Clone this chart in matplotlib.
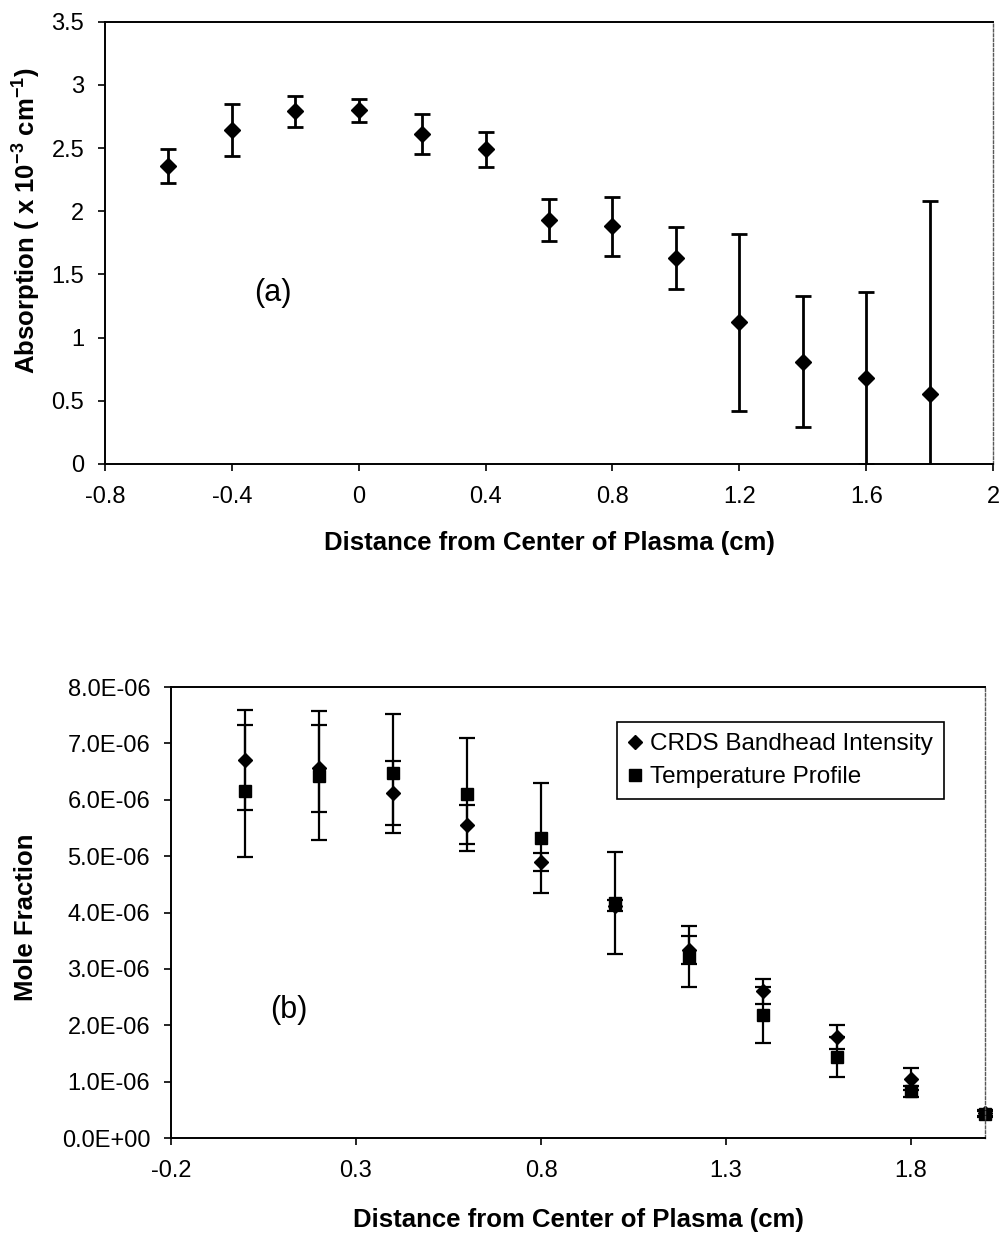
"""Two-panel plasma profile: absorption (a) and mole fraction (b) vs distance."""
import matplotlib
matplotlib.use("Agg")
import matplotlib.pyplot as plt
from matplotlib.ticker import FixedLocator, FuncFormatter

plt.rcParams["font.family"] = ["Liberation Sans", "DejaVu Sans"]
plt.rcParams["axes.unicode_minus"] = False
plt.rcParams["mathtext.fontset"] = "custom"
plt.rcParams["mathtext.rm"] = "Liberation Sans:bold"
plt.rcParams["mathtext.default"] = "rm"

# panel (a): absorption, x 10^-3 cm^-1
dist_a = [-0.6, -0.4, -0.2, 0.0, 0.2, 0.4, 0.6, 0.8, 1.0, 1.2, 1.4, 1.6, 1.8]
absorb = [2.36, 2.64, 2.79, 2.80, 2.61, 2.49, 1.93, 1.88, 1.63, 1.12, 0.81, 0.68, 0.55]
absorb_err = [0.135, 0.205, 0.125, 0.09, 0.16, 0.14, 0.165, 0.235, 0.245, 0.70, 0.52, 0.68, 1.53]

# panel (b): mole fraction, two estimates (values in 1e-6)
dist_b = [0.0, 0.2, 0.4, 0.6, 0.8, 1.0, 1.2, 1.4, 1.6, 1.8, 2.0]
crds = [6.70, 6.56, 6.12, 5.56, 4.89, 4.12, 3.34, 2.60, 1.79, 1.05, 0.45]
crds_err = [0.89, 0.77, 0.56, 0.34, 0.16, 0.10, 0.25, 0.22, 0.21, 0.19, 0.05]
temp = [6.15, 6.43, 6.47, 6.10, 5.32, 4.17, 3.22, 2.18, 1.44, 0.83, 0.43]
temp_err = [1.17, 1.14, 1.06, 1.00, 0.98, 0.90, 0.54, 0.50, 0.35, 0.10, 0.05]

TICK_FS = 17
LABEL_FS = 18.5


def style_axes(ax):
    for side in ("left", "bottom", "top"):
        ax.spines[side].set_linewidth(1.4)
        ax.spines[side].set_color("black")
    ax.spines["right"].set_linewidth(1.0)
    ax.spines["right"].set_color("0.35")
    ax.spines["right"].set_linestyle((0, (2, 1.5)))
    ax.tick_params(axis="both", direction="out", length=5, width=1.2,
                   labelsize=TICK_FS, pad=10)
    ax.tick_params(axis="x", pad=11)


fig = plt.figure(figsize=(10.04, 12.33), dpi=100)

# ---- (a)
ax1 = fig.add_axes([0.1046, 0.6237, 0.8845, 0.3587])
ax1.errorbar(dist_a, absorb, yerr=absorb_err, fmt="D", color="black", ms=8.5,
             elinewidth=2.0, capsize=6, capthick=2.0)
ax1.set_xlim(-0.8, 2.0)
ax1.set_ylim(0, 3.5)
ax1.xaxis.set_major_locator(FixedLocator([-0.8, -0.4, 0, 0.4, 0.8, 1.2, 1.6, 2.0]))
ax1.yaxis.set_major_locator(FixedLocator([0, 0.5, 1, 1.5, 2, 2.5, 3, 3.5]))
ax1.xaxis.set_major_formatter(FuncFormatter(lambda v, p: f"{v:g}"))
ax1.yaxis.set_major_formatter(FuncFormatter(lambda v, p: f"{v:g}"))
style_axes(ax1)
ax1.set_xlabel("Distance from Center of Plasma (cm)", fontsize=LABEL_FS,
               fontweight="bold", va="center")
ax1.xaxis.set_label_coords(0.5, -0.179)
ax1.set_ylabel(r"Absorption ( x 10$^{-3}$ cm$^{-1}$)", fontsize=LABEL_FS,
               fontweight="bold", va="center")
ax1.yaxis.set_label_coords(-0.088, 0.55)
ax1.text(-0.27, 1.35, "(a)", fontsize=22, ha="center", va="center")

# ---- (b)
ax2 = fig.add_axes([0.1703, 0.0770, 0.8108, 0.3658])
scale = 1e-6
eb_c = ax2.errorbar(dist_b, [v * scale for v in crds],
                    yerr=[v * scale for v in crds_err], fmt="D", color="black",
                    ms=6.8, elinewidth=1.6, capsize=6, capthick=1.6,
                    label="CRDS Bandhead Intensity", clip_on=False)
eb_t = ax2.errorbar(dist_b, [v * scale for v in temp],
                    yerr=[v * scale for v in temp_err], fmt="s", color="black",
                    ms=8, elinewidth=1.6, capsize=6, capthick=1.6,
                    label="Temperature Profile", clip_on=False)
ax2.set_xlim(-0.2, 2.0)
ax2.set_ylim(0, 8e-6)
ax2.xaxis.set_major_locator(FixedLocator([-0.2, 0.3, 0.8, 1.3, 1.8]))
ax2.yaxis.set_major_locator(FixedLocator([i * 1e-6 for i in range(9)]))
ax2.xaxis.set_major_formatter(FuncFormatter(lambda v, p: f"{v:g}"))
ax2.yaxis.set_major_formatter(FuncFormatter(lambda v, p: f"{v:.1E}"))
style_axes(ax2)
ax2.set_xlabel("Distance from Center of Plasma (cm)", fontsize=LABEL_FS,
               fontweight="bold", va="center")
ax2.xaxis.set_label_coords(0.5, -0.182)
ax2.set_ylabel("Mole Fraction", fontsize=LABEL_FS, fontweight="bold", va="center")
ax2.yaxis.set_label_coords(-0.178, 0.49)
ax2.text(0.118, 2.27e-6, "(b)", fontsize=22, ha="center", va="center")

leg = ax2.legend(handles=[eb_c.lines[0], eb_t.lines[0]],
                 labels=["CRDS Bandhead Intensity", "Temperature Profile"],
                 loc="upper left", bbox_to_anchor=(0.548, 0.922),
                 fontsize=17.5, frameon=True, fancybox=False, framealpha=1,
                 edgecolor="black", handlelength=0.6, handletextpad=0.3,
                 borderpad=0.45, labelspacing=0.45, borderaxespad=0)
leg.get_frame().set_linewidth(1.2)

fig.savefig("out.png", dpi=100)
